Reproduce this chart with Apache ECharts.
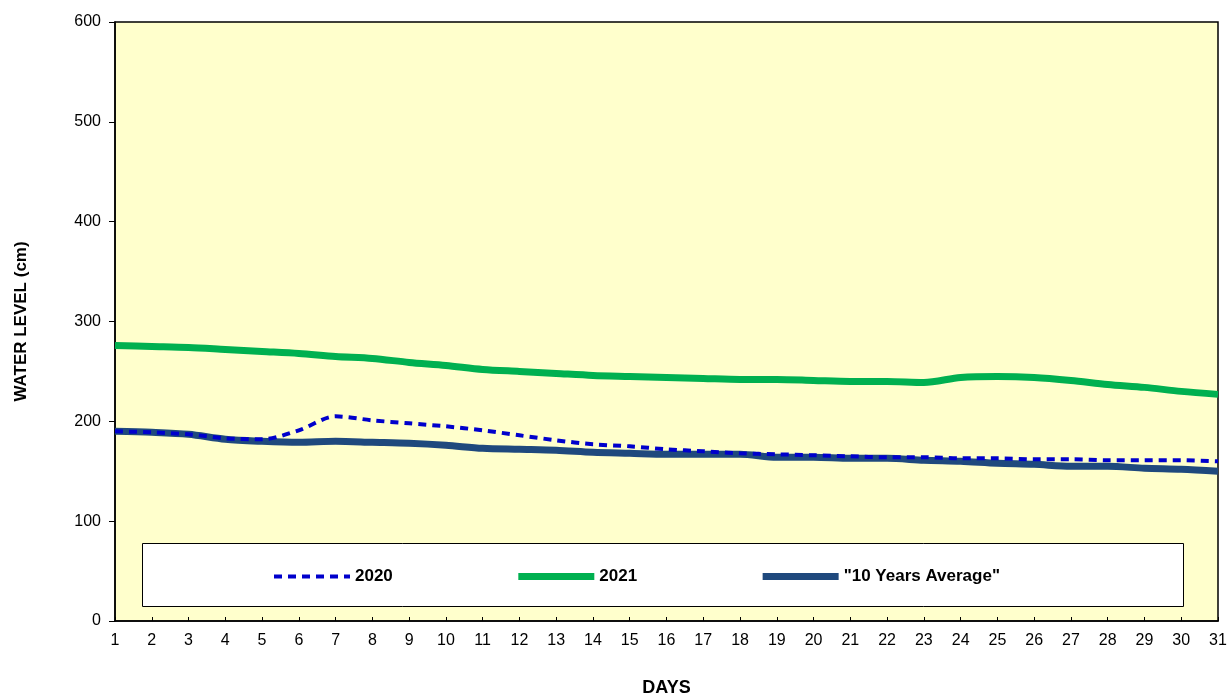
<!DOCTYPE html><html><head><meta charset="utf-8"><script src="https://cdn.jsdelivr.net/npm/echarts@6/dist/echarts.min.js"></script>
<style>body{margin:0;background:#fff}#c{width:1232px;height:699px}</style></head><body><div id="c"></div><script>
const days=[];for(let i=1;i<=31;i++)days.push(String(i));
const y2020=[190,189,187,183,182,191,205,201,198,195,191,186,181,177,175,172,170,168,167,166,165,164,164,163,163,162,162,161,161,161,160];
const y2021=[276,275,274,272,270,268,265,263,259,256,252,250,248,246,245,244,243,242,242,241,240,240,239,244,245,244,241,237,234,230,227];
const avg10=[190,189,187,182,180,179,180,179,178,176,173,172,171,169,168,167,167,167,164,164,163,163,161,160,158,157,155,155,153,152,150];
const yTicks=[0,100,200,300,400,500,600];
const ch=echarts.init(document.getElementById('c'));
const F='Liberation Sans, Arial, sans-serif';
ch.setOption({animation:false,
grid:{left:115,right:14,top:22,bottom:78,outerBoundsMode:'none',containLabel:false,show:true,backgroundColor:'#ffffcc',borderColor:'#000',borderWidth:1.5},
graphic:[{type:'rect',left:142,top:543,shape:{width:1041,height:63},style:{fill:'#fff',stroke:'#000',lineWidth:1},z:5}],
legend:{top:563,left:267,itemGap:122,itemWidth:76,itemHeight:8,z:10,textStyle:{fontFamily:F,fontWeight:'bold',fontSize:17,color:'#000'},
 data:[{name:'2020',itemStyle:{opacity:0},lineStyle:{width:4,type:[8,6]}},{name:'2021',itemStyle:{opacity:0},lineStyle:{width:7}},{name:'"10 Years Average"',itemStyle:{opacity:0},lineStyle:{width:7}}]},
xAxis:{type:'category',data:days,boundaryGap:false,name:'DAYS',nameLocation:'middle',nameGap:58,
 nameTextStyle:{fontFamily:F,fontWeight:'bold',fontSize:18,color:'#000'},
 axisLine:{lineStyle:{color:'#000',width:1.5}},axisTick:{show:true,inside:true,length:4,lineStyle:{color:'#000'}},
 axisLabel:{fontFamily:F,fontSize:16,color:'#000',margin:12,interval:0},splitLine:{show:false}},
yAxis:{type:'value',min:0,max:600,interval:100,name:'WATER LEVEL (cm)',nameLocation:'middle',nameGap:85,
 nameTextStyle:{fontFamily:F,fontWeight:'bold',fontSize:17,color:'#000'},
 axisLine:{show:true,lineStyle:{color:'#000',width:1.5}},axisTick:{show:true,length:6,lineStyle:{color:'#000'}},
 axisLabel:{fontFamily:F,fontSize:16,color:'#000',margin:14,formatter:v=>yTicks.includes(v)?String(v):''},splitLine:{show:false}},
series:[
 {name:'2020',type:'line',data:y2020,smooth:0.3,symbol:'none',z:3,itemStyle:{color:'#0000cc'},lineStyle:{color:'#0000cc',width:4,type:[8,6]}},
 {name:'2021',type:'line',data:y2021,smooth:0.3,symbol:'none',itemStyle:{color:'#00b050'},lineStyle:{color:'#00b050',width:7}},
 {name:'"10 Years Average"',type:'line',data:avg10,smooth:0.3,symbol:'none',z:2,itemStyle:{color:'#1f497d'},lineStyle:{color:'#1f497d',width:7}}
]});
</script></body></html>
